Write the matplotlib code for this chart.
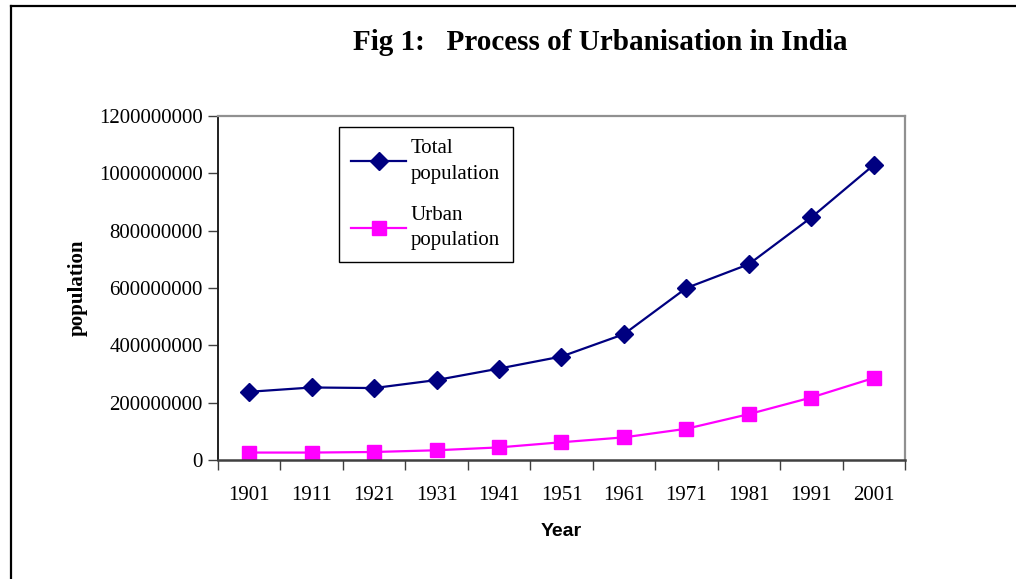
import matplotlib
matplotlib.use("Agg")
from matplotlib import pyplot as plt
from matplotlib.lines import Line2D
import numpy as np

years = ["1901", "1911", "1921", "1931", "1941", "1951", "1961", "1971", "1981", "1991", "2001"]
total_pop = [238e6, 253e6, 251e6, 279e6, 319e6, 361e6, 439e6, 600e6, 683e6, 846e6, 1029e6]
urban_pop = [26e6, 26e6, 28e6, 34e6, 44e6, 62e6, 79e6, 109e6, 160e6, 218e6, 286e6]
yticks = [0, 200000000, 400000000, 600000000, 800000000, 1000000000, 1200000000]

serif = "Liberation Serif"

fig = plt.figure(figsize=(10.16, 5.79), dpi=100)
ax = fig.add_axes([0.2146, 0.2055, 0.6761, 0.5942])

x = np.arange(len(years))
ax.plot(x, total_pop, color="#000080", lw=1.6, marker="D", ms=9.5,
        label="Total\npopulation")
ax.plot(x, urban_pop, color="#FF00FF", lw=1.6, marker="s", ms=10.5,
        label="Urban\npopulation")

ax.set_xlim(-0.5, len(years) - 0.5)
ax.set_ylim(0, 1200000000)
ax.set_yticks(yticks)
ax.set_yticklabels([str(v) for v in yticks], fontfamily=serif, fontsize=15)
ax.set_xticks(np.arange(len(years) + 1) - 0.5)
ax.set_xticklabels([])
ax.set_xticks(x, minor=True)
ax.set_xticklabels(years, minor=True, fontfamily=serif, fontsize=15)
ax.tick_params(axis="x", which="major", length=7, width=1, color="#404040", direction="out")
ax.tick_params(axis="x", which="minor", length=0, pad=19)
ax.tick_params(axis="y", length=7, width=1, color="#404040", direction="out", pad=4)

for s in ["top", "right"]:
    ax.spines[s].set_color("#909090")
    ax.spines[s].set_linewidth(1.6)
ax.spines["left"].set_color("#202020")
ax.spines["left"].set_linewidth(1.4)
ax.spines["bottom"].set_color("#404040")
ax.spines["bottom"].set_linewidth(1.8)

ax.set_ylabel("population", fontfamily=serif, fontweight="bold", fontsize=15)
ax.set_xlabel("Year", fontfamily="Liberation Sans", fontweight="bold", fontsize=14, labelpad=13)
ax.yaxis.set_label_coords(-0.1905, 0.5)

leg = ax.legend(loc="upper left", bbox_to_anchor=(0.176, 0.968), prop={"family": serif, "size": 15},
                handlelength=2.6, handletextpad=0.25, labelspacing=1.05, borderpad=0.6,
                borderaxespad=0, fancybox=False, framealpha=1, edgecolor="black")
leg.get_frame().set_linewidth(1.0)
for t in leg.get_texts():
    t.set_linespacing(1.45)

fig.text(0.5906, 0.926, "Fig 1:   Process of Urbanisation in India", ha="center", va="center",
         fontfamily=serif, fontweight="bold", fontsize=21)

# page frame lines
fig.add_artist(Line2D([11 / 1016, 11 / 1016], [0, 1 - 6 / 579], color="black", lw=1.6))
fig.add_artist(Line2D([11 / 1016, 1], [1 - 6 / 579, 1 - 6 / 579], color="black", lw=1.6))

fig.savefig("out.png", dpi=100)
